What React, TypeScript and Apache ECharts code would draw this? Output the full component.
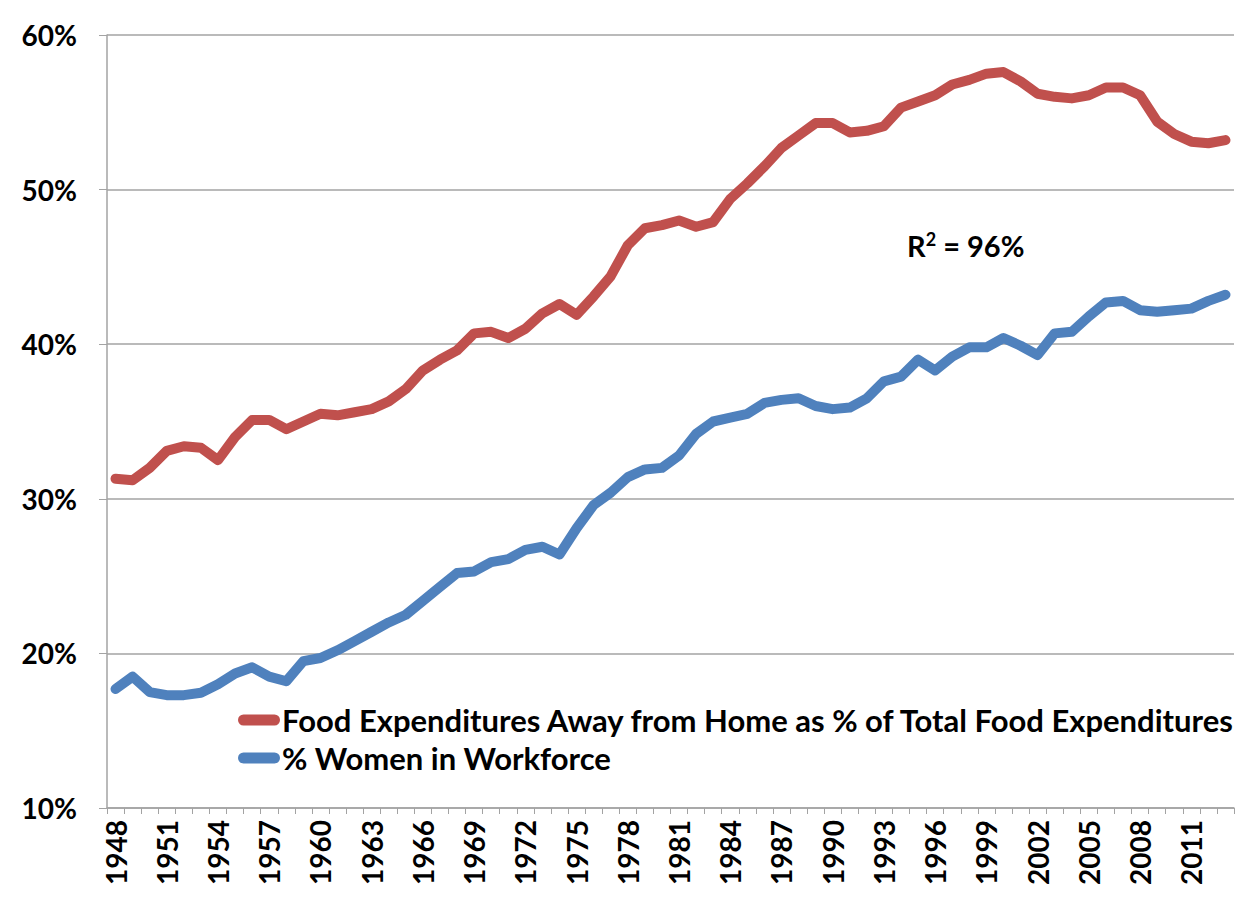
import React, { useEffect, useRef } from "react";
import * as echarts from "echarts";

const years: string[] = [];
for (let y = 1948; y <= 2013; y++) years.push(String(y));

const foodAwayPct = [
  31.3, 31.2, 32.0, 33.1, 33.4, 33.3, 32.5, 34.0, 35.1, 35.1,
  34.5, 35.0, 35.5, 35.4, 35.6, 35.8, 36.3, 37.1, 38.3, 39.0,
  39.6, 40.7, 40.8, 40.4, 41.0, 42.0, 42.6, 41.9, 43.1, 44.4,
  46.4, 47.5, 47.7, 48.0, 47.6, 47.9, 49.4, 50.4, 51.5, 52.7,
  53.5, 54.3, 54.3, 53.7, 53.8, 54.1, 55.3, 55.7, 56.1, 56.8,
  57.1, 57.5, 57.6, 57.0, 56.2, 56.0, 55.9, 56.1, 56.6, 56.6,
  56.1, 54.4, 53.6, 53.1, 53.0, 53.2,
];

const womenWorkforcePct = [
  17.7, 18.5, 17.5, 17.3, 17.3, 17.45, 18.0, 18.7, 19.1, 18.5,
  18.2, 19.5, 19.7, 20.2, 20.8, 21.4, 22.0, 22.5, 23.4, 24.3,
  25.2, 25.3, 25.9, 26.1, 26.7, 26.9, 26.4, 28.1, 29.6, 30.4,
  31.4, 31.9, 32.0, 32.8, 34.2, 35.0, 35.25, 35.5, 36.2, 36.4,
  36.5, 36.0, 35.8, 35.9, 36.5, 37.6, 37.9, 39.0, 38.3, 39.2,
  39.8, 39.8, 40.4, 39.9, 39.3, 40.7, 40.8, 41.8, 42.7, 42.8,
  42.2, 42.1, 42.2, 42.3, 42.8, 43.2,
];

const seriesNames = [
  "Food Expenditures Away from Home as % of Total Food Expenditures",
  "% Women in Workforce",
];
const annotation = "R{sup|2} = 96%";

const FONT = "Lato, 'Open Sans', sans-serif";

export default function App() {
  const ref = useRef<HTMLDivElement>(null);
  useEffect(() => {
    if (!ref.current) return;
    const chart = echarts.init(ref.current, null, { renderer: "svg" });
    const gray = "#A3A3A3";
    chart.setOption({
      animation: false,
      backgroundColor: "#ffffff",
      grid: { left: 107, right: 18, top: 35, bottom: 97, containLabel: false },
      xAxis: {
        type: "category",
        data: years,
        boundaryGap: true,
        axisLine: { show: true, lineStyle: { color: gray, width: 1.5 } },
        axisTick: { show: true, interval: 0, length: 6, lineStyle: { color: gray } },
        axisLabel: {
          interval: 2,
          rotate: 90,
          margin: 12,
          color: "#000",
          fontFamily: FONT,
          fontWeight: "bold",
          fontSize: 28,
        },
        splitLine: { show: false },
      },
      yAxis: {
        type: "value",
        min: 10,
        max: 60,
        interval: 10,
        axisLine: { show: true, lineStyle: { color: gray, width: 1.5 } },
        axisTick: { show: true, length: 8, lineStyle: { color: gray } },
        axisLabel: {
          formatter: "{value}%",
          margin: 30,
          color: "#000",
          fontFamily: FONT,
          fontWeight: "bold",
          fontSize: 28,
        },
        splitLine: { show: true, lineStyle: { color: gray, width: 1.5 } },
      },
      legend: {
        orient: "vertical",
        left: 238,
        top: 701,
        padding: 0,
        itemGap: 0,
        itemWidth: 42,
        itemHeight: 11,
        icon: "path://M5.5,0 L36.5,0 A5.5,5.5 0 0 1 36.5,11 L5.5,11 A5.5,5.5 0 0 1 5.5,0 Z",
        textStyle: {
          color: "#000",
          fontFamily: FONT,
          fontWeight: "bold",
          fontSize: 31,
          lineHeight: 38,
          padding: [0, 0, 0, -3],
        },
        data: seriesNames,
      },
      graphic: [
        {
          type: "text",
          left: 907,
          top: 230,
          style: {
            text: annotation,
            fill: "#000",
            font: `bold 29px ${FONT}`,
            rich: {
              sup: {
                fontSize: 18,
                fontWeight: "bold",
                fontFamily: FONT,
                fill: "#000",
                verticalAlign: "top",
                padding: [0, 0, 12, 0],
              },
            },
          },
        },
      ],
      series: [
        {
          name: seriesNames[0],
          type: "line",
          data: foodAwayPct,
          symbol: "none",
          color: "#C0504D",
          lineStyle: { width: 10, color: "#C0504D", cap: "round", join: "round" },
        },
        {
          name: seriesNames[1],
          type: "line",
          data: womenWorkforcePct,
          symbol: "none",
          color: "#4F81BD",
          lineStyle: { width: 10, color: "#4F81BD", cap: "round", join: "round" },
        },
      ],
    });
    return () => chart.dispose();
  }, []);
  return (
    <div
      ref={ref}
      style={{ position: "fixed", left: 0, top: 0, width: 1252, height: 905, background: "#fff" }}
    />
  );
}
